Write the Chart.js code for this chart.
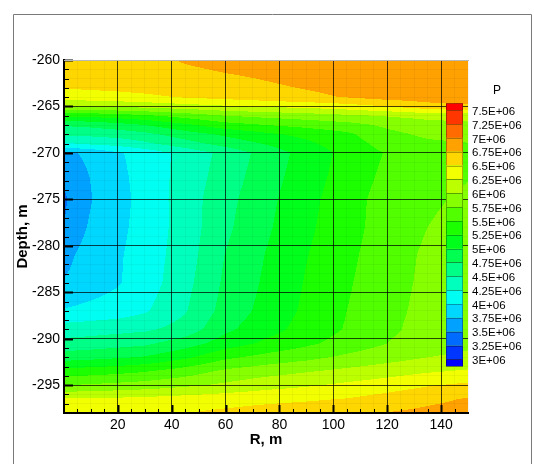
<!DOCTYPE html>
<html>
<head>
<meta charset="utf-8">
<script src="https://cdn.jsdelivr.net/npm/chart.js@4"></script>
<style>
  html, body { margin: 0; padding: 0; background: #fff; }
</style>
</head>
<body>
<canvas id="pressureChart" width="534" height="464"></canvas>
<script>
// mesh nodes
const radii = [0, 4, 10, 20, 30, 45, 60, 75, 90, 105, 120, 135, 150];
const depths = [-260, -262, -263, -264, -265, -266, -267, -268, -269, -270, -272.5, -275,
                -278, -281, -284, -287, -289, -290.5, -292, -293.5, -295, -296.5, -298];

// P in units of 1E+06, one row per depth, one value per radius
const pressure = [
  [6.60, 6.60, 6.62, 6.65, 6.68, 6.77, 6.82, 6.85, 6.88, 6.90, 6.92, 6.93, 6.94],
  [6.58, 6.58, 6.60, 6.62, 6.64, 6.68, 6.72, 6.76, 6.80, 6.83, 6.85, 6.87, 6.88],
  [6.52, 6.52, 6.53, 6.55, 6.58, 6.63, 6.68, 6.72, 6.76, 6.80, 6.84, 6.86, 6.87],
  [6.38, 6.38, 6.40, 6.42, 6.45, 6.52, 6.58, 6.64, 6.71, 6.76, 6.85, 6.88, 6.90],
  [5.98, 5.98, 6.00, 6.04, 6.08, 6.15, 6.22, 6.28, 6.32, 6.40, 6.50, 6.65, 6.70],
  [5.30, 5.30, 5.32, 5.38, 5.45, 5.60, 5.75, 5.82, 5.88, 5.95, 6.02, 6.08, 6.10],
  [4.78, 4.79, 4.82, 4.90, 5.00, 5.20, 5.40, 5.50, 5.58, 5.66, 5.80, 5.90, 5.94],
  [4.55, 4.55, 4.56, 4.60, 4.68, 4.88, 5.05, 5.20, 5.32, 5.45, 5.68, 5.80, 5.84],
  [4.22, 4.25, 4.30, 4.35, 4.45, 4.65, 4.85, 5.02, 5.20, 5.38, 5.60, 5.70, 5.74],
  [3.70, 3.74, 3.80, 3.97, 4.10, 4.33, 4.58, 4.85, 5.10, 5.33, 5.52, 5.65, 5.70],
  [3.55, 3.66, 3.76, 3.94, 4.09, 4.35, 4.62, 4.89, 5.13, 5.36, 5.56, 5.69, 5.74],
  [3.45, 3.62, 3.74, 3.92, 4.08, 4.37, 4.67, 4.93, 5.17, 5.40, 5.60, 5.72, 5.78],
  [3.50, 3.66, 3.78, 3.94, 4.09, 4.36, 4.70, 4.96, 5.20, 5.41, 5.61, 5.75, 5.82],
  [3.65, 3.75, 3.84, 3.97, 4.11, 4.38, 4.76, 5.01, 5.24, 5.44, 5.64, 5.79, 5.87],
  [3.77, 3.82, 3.88, 3.98, 4.12, 4.42, 4.80, 5.04, 5.27, 5.47, 5.66, 5.80, 5.88],
  [4.02, 4.04, 4.07, 4.12, 4.22, 4.48, 4.85, 5.08, 5.30, 5.50, 5.68, 5.82, 5.90],
  [4.38, 4.38, 4.40, 4.43, 4.46, 4.60, 4.95, 5.15, 5.35, 5.52, 5.70, 5.84, 5.92],
  [4.58, 4.59, 4.61, 4.65, 4.70, 4.88, 5.12, 5.30, 5.45, 5.60, 5.75, 5.88, 5.95],
  [4.88, 4.90, 4.92, 4.97, 5.02, 5.20, 5.45, 5.58, 5.68, 5.80, 5.90, 6.00, 6.05],
  [5.35, 5.36, 5.38, 5.42, 5.48, 5.62, 5.80, 5.90, 5.98, 6.06, 6.14, 6.22, 6.28],
  [5.75, 5.76, 5.78, 5.82, 5.86, 5.95, 6.05, 6.15, 6.22, 6.30, 6.38, 6.48, 6.55],
  [6.28, 6.28, 6.29, 6.30, 6.32, 6.36, 6.40, 6.44, 6.47, 6.51, 6.60, 6.69, 6.77],
  [6.42, 6.42, 6.43, 6.45, 6.47, 6.50, 6.55, 6.60, 6.64, 6.69, 6.76, 6.81, 6.86]
];

// contour levels (1E+06) and their legend labels, top to bottom
const levels = [7.5, 7.25, 7, 6.75, 6.5, 6.25, 6, 5.75, 5.5, 5.25, 5, 4.75, 4.5, 4.25, 4, 3.75, 3.5, 3.25, 3];
const levelLabels = ['7.5E+06', '7.25E+06', '7E+06', '6.75E+06', '6.5E+06', '6.25E+06', '6E+06',
  '5.75E+06', '5.5E+06', '5.25E+06', '5E+06', '4.75E+06', '4.5E+06', '4.25E+06', '4E+06',
  '3.75E+06', '3.5E+06', '3.25E+06', '3E+06'];

const xTicks = [20, 40, 60, 80, 100, 120, 140];
const yTicks = [-260, -265, -270, -275, -280, -285, -290, -295];

const FONT = '"Liberation Sans", Arial, Helvetica, sans-serif';

// red -> blue rainbow, one colour per band
function hueColor(h) {
  const f = n => {
    const k = (n + h / 30) % 12;
    return Math.round(255 * (0.5 - 0.5 * Math.max(-1, Math.min(k - 3, 9 - k, 1))));
  };
  return [f(0), f(8), f(4)];
}
const bandColors = [];
for (let k = 0; k <= levels.length; k++) bandColors.push(hueColor(240 * k / levels.length));

function band(p) {
  for (let i = 0; i < levels.length; i++) {
    if (p >= levels[i]) return i;
  }
  return levels.length;
}

function locate(arr, v) {
  for (let i = 0; i < arr.length - 1; i++) {
    const a = arr[i], b = arr[i + 1];
    if ((v - a) * (v - b) <= 0) return [i, (v - a) / (b - a)];
  }
  return Math.abs(v - arr[0]) < Math.abs(v - arr[arr.length - 1]) ? [0, 0] : [arr.length - 2, 1];
}

function sample(r, d) {
  const [i, tx] = locate(radii, r);
  const [j, ty] = locate(depths, d);
  const p00 = pressure[j][i], p01 = pressure[j][i + 1];
  const p10 = pressure[j + 1][i], p11 = pressure[j + 1][i + 1];
  return (p00 * (1 - tx) + p01 * tx) * (1 - ty) + (p10 * (1 - tx) + p11 * tx) * ty;
}

const contourPlugin = {
  id: 'contour',
  beforeDraw(chart) {
    const {ctx, chartArea: a, scales: {x, y}} = chart;
    const left = Math.round(a.left), top = Math.round(a.top);
    const w = Math.round(a.right) - left, h = Math.round(a.bottom) - top;
    const img = ctx.createImageData(w, h);
    const rs = [];
    for (let i = 0; i < w; i++) rs.push(x.getValueForPixel(left + i + 0.5));
    for (let j = 0; j < h; j++) {
      const d = y.getValueForPixel(top + j + 0.5);
      for (let i = 0; i < w; i++) {
        const c = bandColors[band(sample(rs[i], d))];
        const o = (j * w + i) * 4;
        img.data[o] = c[0]; img.data[o + 1] = c[1]; img.data[o + 2] = c[2]; img.data[o + 3] = 255;
      }
    }
    ctx.putImageData(img, left, top);
  },
  afterDraw(chart) {
    const {ctx, chartArea: a, scales: {x, y}} = chart;
    ctx.save();
    // inward tick marks
    ctx.strokeStyle = '#000';
    for (let v = -298; v <= -260; v++) {
      const py = Math.round(y.getPixelForValue(v)) + 0.5;
      const major = v % 5 === 0;
      ctx.lineWidth = major ? 2 : 1;
      ctx.beginPath();
      ctx.moveTo(a.left, py);
      ctx.lineTo(a.left + (major ? 9 : 5), py);
      ctx.stroke();
    }
    for (let v = 5; v < 150; v += 5) {
      const px = Math.round(x.getPixelForValue(v)) + 0.5;
      const major = v % 20 === 0;
      ctx.lineWidth = major ? 2 : 1;
      ctx.beginPath();
      ctx.moveTo(px, a.bottom);
      ctx.lineTo(px, a.bottom - (major ? 8 : 4));
      ctx.stroke();
    }
    // light top edge of the plot
    ctx.strokeStyle = '#b8b8b8';
    ctx.lineWidth = 1;
    ctx.beginPath();
    ctx.moveTo(a.left, a.top + 0.5);
    ctx.lineTo(a.right + 1, a.top + 0.5);
    ctx.stroke();

    // colour legend
    const barLeft = 446, barWidth = 17, barTop = 103.3, step = 13.84;
    const n = levels.length;
    for (let k = 0; k <= n; k++) {
      const t = barTop + (k === 0 ? 0 : step * (k - 0.5));
      const b = barTop + (k === n ? step * n : step * (k + 0.5));
      const c = bandColors[k];
      ctx.fillStyle = `rgb(${c[0]},${c[1]},${c[2]})`;
      ctx.fillRect(barLeft, t, barWidth, b - t);
      ctx.strokeStyle = 'rgba(0,0,0,0.3)';
      ctx.strokeRect(barLeft + 0.5, Math.round(t) + 0.5, barWidth - 1, Math.round(b) - Math.round(t));
    }
    ctx.fillStyle = '#000';
    ctx.font = '11.5px ' + FONT;
    ctx.textAlign = 'left';
    ctx.textBaseline = 'middle';
    levelLabels.forEach((lab, i) => {
      ctx.fillText(lab, 472, barTop + step * (i + 0.5) + 1.5);
    });
    ctx.textAlign = 'center';
    ctx.font = '12px ' + FONT;
    ctx.fillText('P', 497, 91);

    // outer frame
    ctx.strokeStyle = '#7a7a7a';
    ctx.lineWidth = 1;
    ctx.beginPath();
    ctx.moveTo(13.5, 464);
    ctx.lineTo(13.5, 14.5);
    ctx.lineTo(531.5, 14.5);
    ctx.lineTo(531.5, 464);
    ctx.stroke();
    ctx.restore();
  }
};

const nodes = [];
depths.forEach(d => radii.forEach(r => nodes.push({x: r, y: d})));

new Chart(document.getElementById('pressureChart'), {
  type: 'scatter',
  data: {
    datasets: [{ label: 'P', data: nodes, pointRadius: 0, showLine: false }]
  },
  options: {
    responsive: false,
    animation: false,
    events: [],
    layout: { padding: { top: 60, right: 66, left: 0, bottom: 0 } },
    plugins: {
      legend: { display: false },
      tooltip: { enabled: false }
    },
    scales: {
      x: {
        type: 'linear',
        min: 0,
        max: 150,
        afterFit: s => { s.height = 51; },
        ticks: {
          stepSize: 5,
          autoSkip: false,
          maxRotation: 0,
          padding: 4,
          color: '#000',
          font: { family: FONT, size: 14 },
          callback: v => xTicks.includes(v) ? String(v) : ''
        },
        grid: {
          drawTicks: false,
          z: 1,
          lineWidth: 1,
          color: c => (c.tick && xTicks.includes(c.tick.value)) ? 'rgba(0,0,0,0.72)' : 'rgba(0,0,0,0.045)'
        },
        border: { color: '#000', width: 2, z: 2 },
        title: {
          display: true,
          text: 'R, m',
          color: '#000',
          font: { family: FONT, size: 15, weight: 'bold' },
          padding: { top: 0, bottom: 15 }
        }
      },
      y: {
        type: 'linear',
        min: -298,
        max: -260,
        afterFit: s => { s.width = 64; },
        ticks: {
          stepSize: 1,
          autoSkip: false,
          padding: 4,
          color: '#000',
          font: { family: FONT, size: 14 },
          callback: v => yTicks.includes(v) ? String(v) : ''
        },
        grid: {
          drawTicks: false,
          z: 1,
          lineWidth: 1,
          color: c => {
            if (!c.tick) return 'rgba(0,0,0,0.045)';
            if (c.tick.value === -260) return 'rgba(0,0,0,0)';
            return yTicks.includes(c.tick.value) ? 'rgba(0,0,0,0.72)' : 'rgba(0,0,0,0.045)';
          }
        },
        border: { color: '#000', width: 2, z: 2 },
        title: {
          display: true,
          text: 'Depth, m',
          color: '#000',
          font: { family: FONT, size: 15, weight: 'bold' },
          padding: { top: 14, bottom: 0 }
        }
      }
    }
  },
  plugins: [contourPlugin]
});
</script>
</body>
</html>
